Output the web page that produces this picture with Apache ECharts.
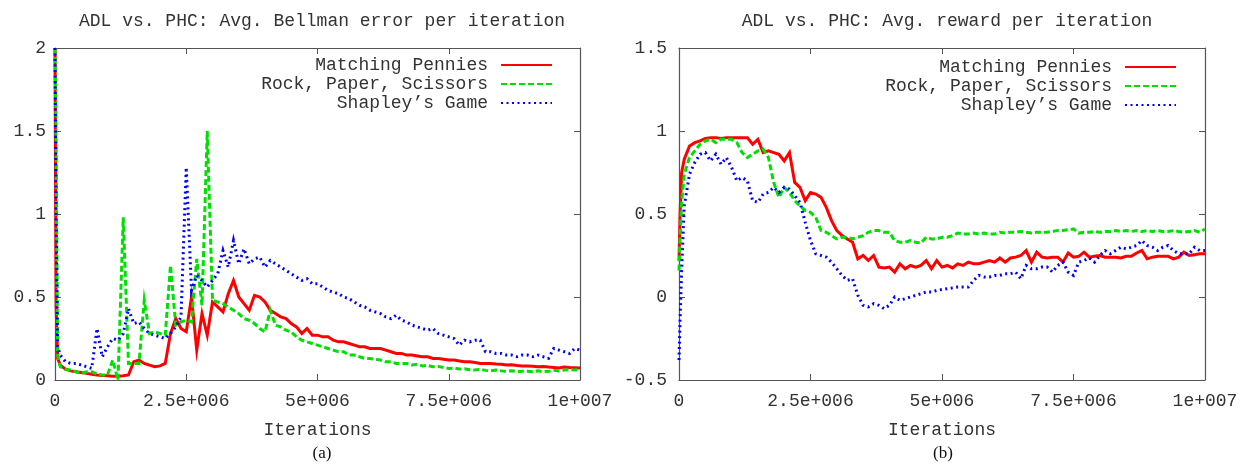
<!DOCTYPE html>
<html>
<head>
<meta charset="utf-8">
<script src="https://cdn.jsdelivr.net/npm/echarts@6/dist/echarts.min.js"></script>
<style>
html,body{margin:0;padding:0;background:#fff;}
#chart{width:1254px;height:464px;}
</style>
</head>
<body>
<div id="chart"></div>
<script>
// x positions, in units of 100,000 iterations
var iterHundredK = [0,0.2,0.5,
 1,2,3,4,5,6,7,8,9,10,11,12,13,14,15,16,17,18,19,20,
 21,22,23,24,25,26,27,28,29,30,31,32,33,34,35,36,37,38,39,40,
 41,42,43,44,45,46,47,48,49,50,51,52,53,54,55,56,57,58,59,60,
 61,62,63,64,65,66,67,68,69,70,71,72,73,74,75,76,77,78,79,80,
 81,82,83,84,85,86,87,88,89,90,91,92,93,94,95,96,97,98,99,100];

var seriesNames = ['Matching Pennies', 'Rock, Paper, Scissors', "Shapley\u2019s Game"];

// (a) Avg. Bellman error per iteration
var bellmanMP = [2.0,0.45,0.13,
 0.09,0.065,0.055,0.05,0.045,0.04,0.035,0.03,0.027,0.025,
 0.022,0.022,0.025,0.03,0.11,0.12,0.1,0.09,0.08,0.085,
 0.1,0.28,0.37,0.31,0.29,0.5,0.18,0.4,0.27,0.47,
 0.44,0.41,0.52,0.6,0.5,0.46,0.42,0.51,0.5,0.47,
 0.42,0.4,0.38,0.37,0.34,0.32,0.28,0.31,0.27,0.27,
 0.26,0.26,0.24,0.23,0.23,0.22,0.21,0.2,0.2,0.19,
 0.19,0.19,0.18,0.17,0.16,0.16,0.15,0.15,0.145,0.14,
 0.14,0.13,0.13,0.125,0.12,0.12,0.115,0.11,0.11,0.105,
 0.1,0.1,0.1,0.096,0.095,0.09,0.092,0.088,0.085,0.084,
 0.083,0.08,0.082,0.078,0.075,0.072,0.078,0.075,0.074,0.073];
var bellmanRPS = [2.0,1.5,0.15,
 0.08,0.065,0.06,0.05,0.04,0.05,0.05,0.035,0.03,0.03,
 0.12,0.0,0.98,0.1,0.1,0.1,0.48,0.28,0.29,0.28,
 0.27,0.69,0.33,0.35,0.36,0.35,0.73,0.45,1.5,0.48,
 0.47,0.46,0.44,0.42,0.4,0.37,0.36,0.34,0.31,0.29,
 0.42,0.33,0.32,0.3,0.29,0.26,0.24,0.23,0.22,0.21,
 0.2,0.19,0.18,0.17,0.17,0.15,0.15,0.14,0.13,0.13,
 0.125,0.12,0.11,0.11,0.1,0.1,0.1,0.09,0.095,0.085,
 0.088,0.08,0.082,0.075,0.07,0.072,0.066,0.068,0.062,0.06,
 0.065,0.058,0.055,0.06,0.055,0.052,0.056,0.05,0.053,0.052,
 0.05,0.055,0.05,0.052,0.058,0.055,0.06,0.062,0.06,0.065];
var bellmanSG = [2.0,1.0,0.2,
 0.15,0.11,0.1,0.1,0.09,0.08,0.07,0.31,0.14,0.2,
 0.25,0.24,0.28,0.43,0.34,0.35,0.31,0.28,0.27,0.26,
 0.25,0.28,0.32,0.38,1.28,0.54,0.63,0.6,0.56,0.6,
 0.64,0.78,0.68,0.84,0.7,0.79,0.7,0.73,0.74,0.68,
 0.72,0.7,0.68,0.66,0.64,0.62,0.6,0.61,0.58,0.58,
 0.56,0.54,0.53,0.52,0.5,0.49,0.47,0.45,0.44,0.42,
 0.41,0.4,0.38,0.37,0.39,0.36,0.35,0.33,0.32,0.31,
 0.3,0.31,0.28,0.27,0.26,0.25,0.21,0.24,0.23,0.24,
 0.24,0.17,0.17,0.16,0.16,0.15,0.15,0.14,0.15,0.15,
 0.14,0.15,0.14,0.13,0.19,0.18,0.17,0.16,0.19,0.18];

// (b) Avg. reward per iteration
var rewardMP = [0.22,0.5,0.75,
 0.83,0.91,0.93,0.94,0.955,0.96,0.96,0.955,0.96,0.96,
 0.96,0.96,0.96,0.92,0.95,0.87,0.88,0.87,0.86,0.82,
 0.87,0.69,0.66,0.58,0.63,0.62,0.6,0.54,0.46,0.4,
 0.37,0.35,0.33,0.23,0.25,0.22,0.25,0.18,0.175,0.18,
 0.15,0.2,0.17,0.19,0.18,0.19,0.22,0.17,0.22,0.18,
 0.19,0.175,0.2,0.19,0.21,0.2,0.2,0.21,0.22,0.21,
 0.235,0.21,0.235,0.24,0.25,0.28,0.21,0.27,0.24,0.235,
 0.24,0.24,0.21,0.265,0.24,0.245,0.27,0.24,0.245,0.25,
 0.24,0.24,0.24,0.235,0.245,0.245,0.265,0.28,0.23,0.24,
 0.245,0.245,0.245,0.23,0.24,0.27,0.25,0.255,0.26,0.26];
var rewardRPS = [0.16,0.35,0.57,
 0.74,0.84,0.88,0.92,0.94,0.95,0.93,0.95,0.95,0.95,
 0.93,0.87,0.84,0.86,0.88,0.89,0.84,0.69,0.6,0.66,
 0.63,0.58,0.55,0.52,0.51,0.48,0.4,0.39,0.37,0.35,
 0.36,0.36,0.35,0.36,0.37,0.39,0.4,0.4,0.39,0.39,
 0.34,0.33,0.33,0.34,0.33,0.325,0.36,0.35,0.35,0.36,
 0.36,0.37,0.385,0.38,0.38,0.385,0.38,0.385,0.38,0.38,
 0.39,0.385,0.39,0.39,0.395,0.39,0.385,0.39,0.39,0.39,
 0.395,0.4,0.4,0.405,0.41,0.385,0.39,0.39,0.395,0.39,
 0.395,0.395,0.4,0.395,0.4,0.395,0.4,0.395,0.4,0.395,
 0.4,0.395,0.395,0.4,0.395,0.39,0.395,0.4,0.39,0.41];
var rewardSG = [-0.38,-0.14,0.16,
 0.55,0.74,0.81,0.86,0.87,0.82,0.86,0.8,0.84,0.78,
 0.7,0.72,0.7,0.58,0.57,0.62,0.63,0.66,0.63,0.66,
 0.65,0.61,0.57,0.45,0.34,0.26,0.25,0.24,0.21,0.17,
 0.13,0.1,0.11,0.01,-0.05,-0.06,-0.04,-0.05,-0.07,-0.05,
 0.0,-0.02,-0.01,0.0,0.01,0.02,0.03,0.03,0.04,0.045,
 0.05,0.055,0.06,0.06,0.06,0.1,0.13,0.12,0.12,0.13,
 0.13,0.14,0.14,0.15,0.11,0.19,0.17,0.17,0.18,0.18,
 0.15,0.19,0.21,0.15,0.13,0.21,0.22,0.235,0.21,0.25,
 0.28,0.26,0.28,0.3,0.29,0.3,0.31,0.34,0.31,0.3,
 0.28,0.3,0.31,0.28,0.26,0.26,0.26,0.3,0.28,0.28];

var xTickValues = [0, 2500000, 5000000, 7500000, 10000000];
var xTickLabels = ['0', '2.5e+006', '5e+006', '7.5e+006', '1e+007'];

var chartTitles = ['ADL vs. PHC: Avg. Bellman error per iteration', 'ADL vs. PHC: Avg. reward per iteration'];
var panelLabels = ['(a)', '(b)'];
var xAxisTitle = 'Iterations';

function pairs(ys) {
  return iterHundredK.map(function (k, i) { return [k * 100000, ys[i]]; });
}

var MONO = '"Liberation Mono", "DejaVu Sans Mono", monospace';
var TXT = '#333';
var AXC = '#555';
var colors = ['#ff0000', '#00e000', '#0000ff'];
var styles = ['solid', [6, 3], [2, 3.5]];

var grids = [
  { left: 55, top: 48, width: 525, height: 332 },
  { left: 679, top: 48, width: 526, height: 332 }
];

function xFmt(v) {
  var i = xTickValues.indexOf(v);
  return i >= 0 ? xTickLabels[i] : '';
}

var xAxes = [], yAxes = [];
[0, 1].forEach(function (g) {
  xAxes.push({
    type: 'value', gridIndex: g, min: 0, max: 10000000, interval: 2500000,
    position: 'bottom',
    name: xAxisTitle, nameLocation: 'middle', nameGap: 41,
    nameTextStyle: { fontFamily: MONO, fontSize: 18, color: TXT },
    axisLine: { show: true, onZero: false, lineStyle: { color: AXC, width: 1.2 } },
    axisTick: { show: true, inside: true, length: 6, lineStyle: { color: AXC } },
    axisLabel: { fontFamily: MONO, fontSize: 18, color: TXT, margin: 12, formatter: xFmt },
    splitLine: { show: false }
  });
});
[0, 1].forEach(function (g) {
  xAxes.push({
    type: 'value', gridIndex: g, min: 0, max: 10000000, interval: 2500000,
    position: 'top',
    axisLine: { show: true, onZero: false, lineStyle: { color: AXC, width: 1.2 } },
    axisTick: { show: true, inside: true, length: 6, lineStyle: { color: AXC } },
    axisLabel: { show: false },
    splitLine: { show: false }
  });
});
var yRanges = [[0, 2], [-0.5, 1.5]];
[0, 1].forEach(function (g) {
  yAxes.push({
    type: 'value', gridIndex: g, min: yRanges[g][0], max: yRanges[g][1], interval: 0.5,
    position: 'left',
    axisLine: { show: true, onZero: false, lineStyle: { color: AXC, width: 1.2 } },
    axisTick: { show: true, inside: true, length: 6, lineStyle: { color: AXC } },
    axisLabel: { fontFamily: MONO, fontSize: 18, color: TXT, margin: g === 0 ? 9 : 12 },
    splitLine: { show: false }
  });
});
[0, 1].forEach(function (g) {
  yAxes.push({
    type: 'value', gridIndex: g, min: yRanges[g][0], max: yRanges[g][1], interval: 0.5,
    position: 'right',
    axisLine: { show: true, onZero: false, lineStyle: { color: AXC, width: 1.2 } },
    axisTick: { show: true, inside: true, length: 6, lineStyle: { color: AXC } },
    axisLabel: { show: false },
    splitLine: { show: false }
  });
});

var dataSets = [[bellmanMP, bellmanRPS, bellmanSG], [rewardMP, rewardRPS, rewardSG]];
var series = [];
[0, 1].forEach(function (g) {
  dataSets[g].forEach(function (ys, s) {
    series.push({
      name: seriesNames[s], type: 'line', xAxisIndex: g, yAxisIndex: g,
      data: pairs(ys), symbol: 'none', showSymbol: false, smooth: false, clip: true,
      animation: false,
      lineStyle: { color: colors[s], width: 3, type: styles[s], cap: 'butt', join: 'miter' },
      itemStyle: { color: colors[s] }
    });
  });
});

function legendAt(rightPx, topPx) {
  return {
    data: seriesNames, orient: 'vertical', right: rightPx, top: topPx, align: 'right',
    itemWidth: 51, itemHeight: 10, itemGap: 1, selectedMode: false,
    itemStyle: { opacity: 0, borderWidth: 0 },
    textStyle: { fontFamily: MONO, fontSize: 18, color: TXT, padding: [0, 8, 0, 0], lineHeight: 18 }
  };
}

var option = {
  backgroundColor: '#fff',
  animation: false,
  title: [
    { text: chartTitles[0], left: 317, top: 7, textAlign: 'center', textStyle: { fontFamily: MONO, fontSize: 18, fontWeight: 'normal', color: TXT } },
    { text: chartTitles[1], left: 942, top: 7, textAlign: 'center', textStyle: { fontFamily: MONO, fontSize: 18, fontWeight: 'normal', color: TXT } },
    { text: panelLabels[0], left: 317, top: 440, textAlign: 'center', textStyle: { fontFamily: '"Liberation Serif", "DejaVu Serif", serif', fontSize: 17, fontWeight: 'normal', color: '#111' } },
    { text: panelLabels[1], left: 938, top: 440, textAlign: 'center', textStyle: { fontFamily: '"Liberation Serif", "DejaVu Serif", serif', fontSize: 17, fontWeight: 'normal', color: '#111' } }
  ],
  legend: [legendAt(1254 - 558, 51), legendAt(1254 - 1182, 53)],
  grid: grids,
  xAxis: xAxes,
  yAxis: yAxes,
  series: series
};

var chart = echarts.init(document.getElementById('chart'), null, { renderer: 'canvas' });
chart.setOption(option);
</script>
</body>
</html>
